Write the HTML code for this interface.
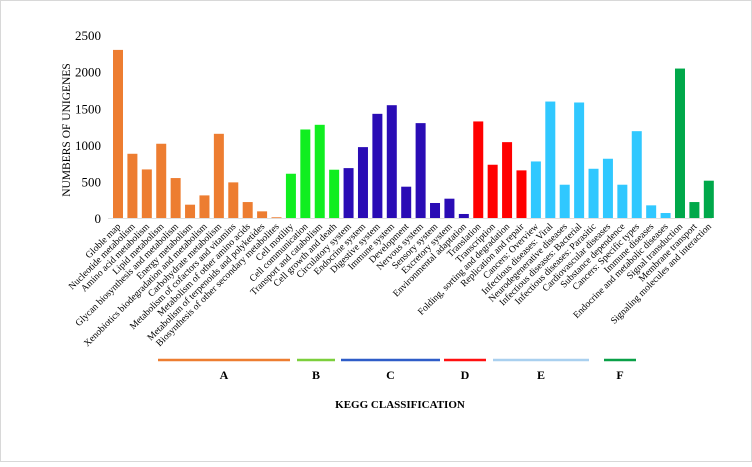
<!DOCTYPE html>
<html><head><meta charset="utf-8"><style>
body{margin:0;background:#fff}
svg text{font-family:"Liberation Serif",serif}
</style></head><body>
<svg id="c" width="752" height="462" viewBox="0 0 752 462">
<rect x="0.5" y="0.5" width="751" height="461" fill="#fff" stroke="#d8d8d8"/>
<text x="70" y="130" transform="rotate(-90 70 130)" text-anchor="middle" font-size="11.5">NUMBERS OF UNIGENES</text>
<text x="400" y="408" text-anchor="middle" font-size="11" font-weight="bold">KEGG CLASSIFICATION</text>
<g id="ticks"></g><g id="bars"></g><g id="labels"></g><g id="groups"></g>
</svg>
<script>
const categories=["Globle map","Nucleotide metabolism","Amino acid metabolism","Lipid metabolism","Glycan biosynthesis and metabolism","Energy metabolism","Xenobiotics biodegradation and metabolism","Carbohydrate metabolism","Metabolism of cofactors and vitamins","Metabolism of other amino acids","Metabolism of terpenoids and polyketides","Biosynthesis of other secondary metabolites","Cell motility","Cell communication","Transport and catabolism","Cell growth and death","Circulatory system","Endocrine system","Digestive system","Immune system","Development","Nervous system","Sensory system","Excretory system","Environmental adaptation","Translation","Transcription","Folding, sorting and degradation","Replication and repair","Cancers: Overview","Infectious diseases: Viral","Neurodegenerative diseases","Infectious diseases: Bacterial","Infectious diseases: Parasitic","Cardiovascular diseases","Substance dependence","Cancers: Specific types","Immune diseases","Endocrine and metabolic diseases","Signal transduction","Membrane transport","Signaling molecules and interaction"];
const values=[2298,878,664,1015,546,182,309,1151,487,218,91,10,605,1210,1274,660,682,969,1424,1542,428,1297,205,264,55,1320,728,1037,651,773,1592,455,1579,673,810,455,1187,173,68,2043,218,510];
const groupIds=["A","A","A","A","A","A","A","A","A","A","A","A","B","B","B","B","C","C","C","C","C","C","C","C","C","D","D","D","D","E","E","E","E","E","E","E","E","E","E","F","F","F"];
const groupNames=["A","B","C","D","E","F"];
const tickValues=[0,500,1000,1500,2000,2500];
const barColors={A:"#ed7d31",B:"#10ee20",C:"#2a0cb5",D:"#ff0000",E:"#30c8ff",F:"#00a84a"};
const lineColors={A:"#ed7d31",B:"#7ccf3c",C:"#2e5cc8",D:"#ff1010",E:"#a9d0ef",F:"#0aa048"};
const groupLines={A:[158,290],B:[297,335],C:[341,440],D:[444,486],E:[493,589],F:[604,636]};
const NS="http://www.w3.org/2000/svg";
const y0=218,k=146.3/2000,x0=118,pitch=14.41,bw=10;
const y=v=>y0-v*k, x=i=>x0+i*pitch;
function mk(t,a,p){const e=document.createElementNS(NS,t);for(const n in a)e.setAttribute(n,a[n]);p.appendChild(e);return e;}
const T=document.getElementById('ticks'),B=document.getElementById('bars'),L=document.getElementById('labels'),G=document.getElementById('groups');
tickValues.forEach(v=>{const t=mk('text',{x:101,y:y(v)+5,'text-anchor':'end','font-size':'13'},T);t.textContent=v;

});
const ax=mk('line',{x1:108,x2:712,y1:y0+0.5,y2:y0+0.5,stroke:'#e0e0e0'},T);


values.forEach((v,i)=>{const c=barColors[groupIds[i]];
const r=mk('rect',{x:x(i)-bw/2,y:y(v),width:bw,height:Math.max(v*k,0.8),fill:c},B);


const tx=x(i)+3,ty=y0+9;
const t=mk('text',{x:tx,y:ty,'text-anchor':'end','font-size':'9.6',transform:`rotate(-45 ${tx} ${ty})`},L);t.textContent=categories[i];

});
groupNames.forEach(g=>{const [a,b]=groupLines[g];
const l=mk('line',{x1:a,x2:b,y1:360,y2:360,stroke:lineColors[g],'stroke-width':2.5},G);


const t=mk('text',{x:(a+b)/2,y:379,'text-anchor':'middle','font-size':'12','font-weight':'bold'},G);t.textContent=g;

});
</script>
</body></html>
